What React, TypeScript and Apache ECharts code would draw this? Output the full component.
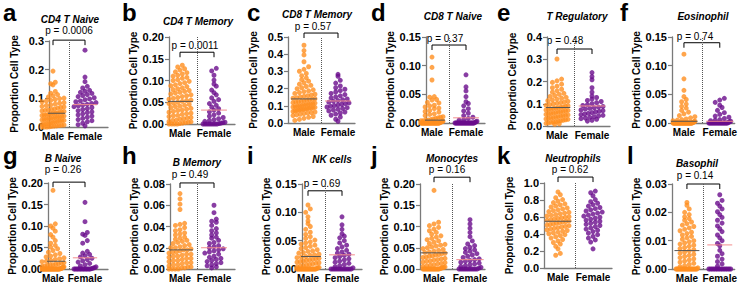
import React, { useEffect, useRef } from 'react';
import * as echarts from 'echarts';

// ---------- DATA ----------
const groups = ['Male', 'Female'];
const panelLetters = ['a', 'b', 'c', 'd', 'e', 'f', 'g', 'h', 'i', 'j', 'k', 'l'];
const panelTitles = ['CD4 T Naive', 'CD4 T Memory', 'CD8 T Memory', 'CD8 T Naive', 'T Regulatory', 'Eosinophil',
  'B Naive', 'B Memory', 'NK cells', 'Monocytes', 'Neutrophils', 'Basophil'];
const pValues = ['p = 0.0006', 'p = 0.0011', 'p = 0.57', 'p = 0.37', 'p = 0.48', 'p = 0.74',
  'p = 0.26', 'p = 0.49', 'p = 0.69', 'p = 0.16', 'p = 0.62', 'p = 0.14'];
const yMax = [0.3, 0.2, 0.5, 0.15, 0.4, 0.15, 0.2, 0.08, 0.15, 0.2, 1.0, 0.03];
const yStep = [0.1, 0.05, 0.1, 0.05, 0.1, 0.05, 0.05, 0.02, 0.05, 0.05, 0.2, 0.01];
const yDecimals = [1, 2, 1, 2, 1, 2, 2, 2, 2, 2, 1, 2];
const maleMedian = [0.048, 0.052, 0.140, 0.005, 0.083, 0.003, 0.018, 0.018, 0.022, 0.038, 0.550, 0.0065];
const femaleMedian: (number | null)[] = [0.078, 0.032, 0.128, 0.009, 0.090, 0.003, 0.026, 0.020, 0.025, 0.022, null, 0.0085];
const bracketY = [0.303, 0.165, 0.523, 0.136, 0.346, 0.140, 0.202, 0.081, 0.138, 0.216, 1.07, 0.030];

const aMale = [0.195, 0.156, 0.151, 0.147, 0.124, 0.118, 0.113, 0.109, 0.105, 0.101, 0.099, 0.096, 0.093, 0.091, 0.088, 0.085, 0.083, 0.080, 0.077, 0.075, 0.072, 0.070, 0.068, 0.066, 0.063, 0.061, 0.060, 0.058, 0.056, 0.054, 0.052, 0.051, 0.049, 0.048, 0.047, 0.045, 0.044, 0.042, 0.041, 0.040, 0.038, 0.037, 0.035, 0.034, 0.033, 0.031, 0.030, 0.029, 0.027, 0.026, 0.025, 0.023, 0.022, 0.021, 0.019, 0.018, 0.016, 0.015, 0.013, 0.012, 0.010, 0.009, 0.007, 0.006, 0.005, 0.004, 0.003, 0.002, 0.001, 0, 0, 0];
const aFemale = [0.268, 0.174, 0.158, 0.142, 0.136, 0.128, 0.125, 0.121, 0.117, 0.113, 0.110, 0.106, 0.102, 0.098, 0.095, 0.091, 0.088, 0.085, 0.082, 0.079, 0.077, 0.074, 0.071, 0.068, 0.064, 0.061, 0.057, 0.053, 0.050, 0.046, 0.042, 0.038, 0.034, 0.030, 0.026, 0.022, 0.018, 0.013, 0.008, 0.004];

const bMale = [0.135, 0.131, 0.127, 0.124, 0.120, 0.118, 0.115, 0.112, 0.110, 0.107, 0.105, 0.102, 0.100, 0.098, 0.095, 0.093, 0.090, 0.088, 0.086, 0.083, 0.081, 0.079, 0.077, 0.075, 0.073, 0.071, 0.069, 0.067, 0.065, 0.063, 0.061, 0.059, 0.057, 0.055, 0.054, 0.052, 0.050, 0.048, 0.047, 0.045, 0.043, 0.041, 0.040, 0.038, 0.036, 0.034, 0.032, 0.031, 0.029, 0.027, 0.025, 0.024, 0.022, 0.020, 0.019, 0.017, 0.015, 0.014, 0.012, 0.011, 0.009, 0.008, 0.006, 0.005, 0.004, 0.003, 0.002, 0.001, 0, 0, 0, 0];
const bFemale = [0.128, 0.122, 0.112, 0.101, 0.092, 0.087, 0.078, 0.072, 0.067, 0.060, 0.056, 0.052, 0.047, 0.043, 0.039, 0.035, 0.032, 0.028, 0.025, 0.021, 0.018, 0.015, 0.012, 0.010, 0.008, 0.006, 0.004, 0.003, 0.002, 0.001, 0, 0, 0, 0, 0, 0, 0, 0];

const cMale = [0.452, 0.421, 0.396, 0.356, 0.327, 0.312, 0.301, 0.288, 0.275, 0.262, 0.252, 0.243, 0.234, 0.226, 0.219, 0.212, 0.205, 0.199, 0.193, 0.187, 0.182, 0.177, 0.172, 0.167, 0.163, 0.159, 0.155, 0.151, 0.147, 0.144, 0.141, 0.138, 0.135, 0.132, 0.129, 0.126, 0.123, 0.121, 0.118, 0.116, 0.113, 0.111, 0.108, 0.106, 0.104, 0.101, 0.099, 0.097, 0.095, 0.093, 0.091, 0.089, 0.087, 0.085, 0.083, 0.081, 0.079, 0.077, 0.075, 0.072, 0.070, 0.067, 0.064, 0.061, 0.058, 0.055, 0.051, 0.047, 0.043, 0.038, 0.033, 0.027, 0.021, 0.015];
const cFemale = [0.283, 0.272, 0.248, 0.232, 0.215, 0.205, 0.196, 0.188, 0.180, 0.172, 0.165, 0.158, 0.152, 0.146, 0.140, 0.135, 0.130, 0.126, 0.121, 0.117, 0.113, 0.109, 0.105, 0.101, 0.097, 0.093, 0.089, 0.085, 0.080, 0.075, 0.070, 0.064, 0.058, 0.052, 0.045, 0.035, 0.022, 0.010];

const dMale = [0.115, 0.097, 0.075, 0.046, 0.045, 0.041, 0.040, 0.036, 0.035, 0.031, 0.030, 0.028, 0.026, 0.025, 0.022, 0.020, 0.019, 0.016, 0.015, 0.013, 0.011, 0.010, 0.009, 0.008, 0.007, 0.006, 0.005, 0.005, 0.004, 0.004, 0.003, 0.003, 0.002, 0.002, 0.001, 0.001, 0, 0, 0, 0, 0, 0, 0, 0, 0, 0, 0, 0, 0, 0, 0, 0, 0, 0, 0, 0, 0, 0, 0, 0, 0, 0, 0, 0, 0, 0];
const dFemale = [0.084, 0.063, 0.056, 0.046, 0.037, 0.034, 0.030, 0.025, 0.021, 0.017, 0.013, 0.010, 0.008, 0.006, 0.005, 0.003, 0.002, 0.001, 0, 0, 0, 0, 0, 0, 0, 0, 0, 0, 0, 0, 0, 0, 0, 0, 0, 0, 0, 0];

const eMale = [0.301, 0.211, 0.203, 0.196, 0.188, 0.179, 0.172, 0.165, 0.158, 0.152, 0.147, 0.142, 0.137, 0.133, 0.129, 0.125, 0.121, 0.117, 0.114, 0.111, 0.108, 0.105, 0.102, 0.099, 0.096, 0.093, 0.091, 0.088, 0.086, 0.084, 0.082, 0.080, 0.078, 0.076, 0.074, 0.072, 0.070, 0.068, 0.066, 0.064, 0.062, 0.060, 0.058, 0.056, 0.054, 0.052, 0.050, 0.048, 0.046, 0.044, 0.042, 0.040, 0.038, 0.036, 0.034, 0.032, 0.030, 0.028, 0.026, 0.024, 0.022, 0.020, 0.018, 0.016, 0.014, 0.012, 0.010, 0.008];
const eFemale = [0.240, 0.222, 0.208, 0.172, 0.152, 0.135, 0.128, 0.121, 0.115, 0.110, 0.105, 0.100, 0.096, 0.092, 0.088, 0.085, 0.082, 0.079, 0.076, 0.072, 0.069, 0.066, 0.063, 0.060, 0.057, 0.054, 0.051, 0.048, 0.045, 0.042, 0.039, 0.036, 0.033, 0.030, 0.026, 0.022];

const fMale = [0.120, 0.077, 0.057, 0.046, 0.041, 0.037, 0.033, 0.029, 0.026, 0.022, 0.019, 0.016, 0.013, 0.011, 0.009, 0.007, 0.006, 0.005, 0.004, 0.003, 0.002, 0.002, 0.001, 0.001, 0, 0, 0, 0, 0, 0, 0, 0, 0, 0, 0, 0, 0, 0, 0, 0, 0, 0, 0, 0, 0, 0, 0, 0, 0, 0, 0, 0, 0, 0, 0, 0, 0, 0, 0];
const fFemale = [0.043, 0.040, 0.036, 0.031, 0.027, 0.022, 0.018, 0.015, 0.012, 0.010, 0.008, 0.006, 0.005, 0.004, 0.003, 0.002, 0.001, 0, 0, 0, 0, 0, 0, 0, 0, 0, 0, 0, 0, 0, 0, 0, 0, 0, 0];

const gMale = [0.183, 0.105, 0.100, 0.095, 0.088, 0.080, 0.074, 0.066, 0.060, 0.055, 0.051, 0.047, 0.043, 0.039, 0.036, 0.033, 0.030, 0.028, 0.026, 0.024, 0.022, 0.020, 0.018, 0.017, 0.015, 0.014, 0.012, 0.011, 0.010, 0.009, 0.008, 0.007, 0.006, 0.005, 0.004, 0.003, 0.002, 0.001, 0.001, 0, 0, 0, 0, 0, 0, 0, 0, 0, 0, 0, 0, 0, 0, 0, 0, 0, 0, 0, 0, 0, 0, 0, 0, 0];
const gFemale = [0.155, 0.110, 0.085, 0.081, 0.078, 0.066, 0.060, 0.041, 0.037, 0.034, 0.031, 0.028, 0.025, 0.022, 0.019, 0.016, 0.013, 0.010, 0.007, 0.005, 0.003, 0.002, 0.001, 0, 0, 0, 0, 0, 0, 0, 0, 0, 0, 0, 0];

const hMale = [0.071, 0.066, 0.061, 0.056, 0.043, 0.042, 0.041, 0.039, 0.037, 0.036, 0.034, 0.033, 0.032, 0.030, 0.029, 0.028, 0.027, 0.026, 0.025, 0.024, 0.023, 0.022, 0.021, 0.020, 0.020, 0.019, 0.018, 0.018, 0.017, 0.016, 0.016, 0.015, 0.014, 0.014, 0.013, 0.012, 0.012, 0.011, 0.010, 0.010, 0.009, 0.008, 0.008, 0.007, 0.006, 0.006, 0.005, 0.004, 0.004, 0.003, 0.002, 0.002, 0.001, 0.001, 0, 0, 0, 0];
const hFemale = [0.060, 0.053, 0.047, 0.045, 0.044, 0.041, 0.038, 0.036, 0.034, 0.032, 0.030, 0.029, 0.027, 0.025, 0.024, 0.022, 0.021, 0.020, 0.019, 0.018, 0.017, 0.016, 0.015, 0.014, 0.012, 0.011, 0.010, 0.009, 0.008, 0.007, 0.006, 0.005, 0.004, 0.003, 0.002, 0.001];

const iMale = [0.113, 0.106, 0.100, 0.092, 0.085, 0.080, 0.075, 0.070, 0.065, 0.061, 0.057, 0.054, 0.051, 0.048, 0.046, 0.044, 0.042, 0.040, 0.038, 0.036, 0.034, 0.032, 0.031, 0.029, 0.028, 0.026, 0.025, 0.024, 0.022, 0.021, 0.020, 0.019, 0.018, 0.017, 0.016, 0.015, 0.014, 0.013, 0.012, 0.011, 0.010, 0.009, 0.008, 0.007, 0.006, 0.005, 0.004, 0.003, 0.002, 0.001, 0, 0, 0, 0, 0, 0, 0, 0, 0, 0, 0, 0, 0, 0, 0, 0, 0, 0];
const iFemale = [0.092, 0.078, 0.070, 0.062, 0.058, 0.055, 0.050, 0.046, 0.042, 0.039, 0.036, 0.033, 0.030, 0.028, 0.026, 0.024, 0.022, 0.020, 0.018, 0.016, 0.014, 0.012, 0.010, 0.008, 0.006, 0.004, 0.002, 0, 0, 0, 0, 0, 0, 0, 0, 0, 0, 0];

const jMale = [0.185, 0.110, 0.106, 0.102, 0.098, 0.094, 0.090, 0.086, 0.082, 0.078, 0.075, 0.072, 0.069, 0.066, 0.063, 0.060, 0.058, 0.056, 0.054, 0.052, 0.050, 0.048, 0.046, 0.044, 0.042, 0.040, 0.039, 0.037, 0.036, 0.034, 0.033, 0.031, 0.030, 0.028, 0.027, 0.025, 0.024, 0.022, 0.021, 0.019, 0.018, 0.016, 0.015, 0.013, 0.012, 0.010, 0.009, 0.007, 0.006, 0.005, 0.004, 0.003, 0.002, 0.001, 0, 0, 0, 0, 0, 0, 0, 0, 0, 0, 0, 0, 0, 0];
const jFemale = [0.116, 0.106, 0.096, 0.086, 0.076, 0.066, 0.059, 0.055, 0.051, 0.048, 0.045, 0.042, 0.039, 0.036, 0.033, 0.030, 0.027, 0.024, 0.022, 0.020, 0.018, 0.016, 0.014, 0.012, 0.010, 0.008, 0.006, 0.004, 0.002, 0, 0, 0, 0, 0, 0, 0, 0, 0, 0];

const kMale = [0.895, 0.862, 0.826, 0.805, 0.785, 0.770, 0.755, 0.742, 0.730, 0.718, 0.706, 0.695, 0.684, 0.674, 0.664, 0.655, 0.646, 0.637, 0.628, 0.620, 0.612, 0.604, 0.596, 0.589, 0.582, 0.575, 0.568, 0.561, 0.554, 0.547, 0.540, 0.533, 0.526, 0.519, 0.512, 0.505, 0.498, 0.490, 0.482, 0.474, 0.466, 0.458, 0.450, 0.441, 0.432, 0.423, 0.413, 0.403, 0.392, 0.380, 0.368, 0.352, 0.335, 0.318, 0.300, 0.282, 0.255, 0.225, 0.172, 0.150];
const kFemale = [0.905, 0.885, 0.850, 0.805, 0.780, 0.762, 0.745, 0.728, 0.712, 0.698, 0.684, 0.671, 0.658, 0.646, 0.634, 0.622, 0.610, 0.598, 0.586, 0.574, 0.562, 0.550, 0.538, 0.526, 0.514, 0.500, 0.486, 0.472, 0.458, 0.444, 0.428, 0.410, 0.392, 0.372, 0.352, 0.330, 0.305, 0.225];

const lMale = [0.0235, 0.0225, 0.0212, 0.0200, 0.0192, 0.0184, 0.0178, 0.0172, 0.0166, 0.0160, 0.0155, 0.0150, 0.0145, 0.0140, 0.0135, 0.0130, 0.0125, 0.0120, 0.0115, 0.0110, 0.0105, 0.0100, 0.0096, 0.0092, 0.0088, 0.0084, 0.0080, 0.0076, 0.0072, 0.0068, 0.0064, 0.0060, 0.0056, 0.0052, 0.0048, 0.0044, 0.0040, 0.0036, 0.0032, 0.0028, 0.0024, 0.0020, 0.0016, 0.0012, 0.0008, 0.0004, 0, 0, 0, 0, 0, 0, 0, 0, 0, 0, 0, 0, 0, 0, 0, 0, 0, 0, 0, 0];
const lFemale = [0.0262, 0.0242, 0.0232, 0.0222, 0.0212, 0.0202, 0.0192, 0.0182, 0.0172, 0.0162, 0.0152, 0.0142, 0.0132, 0.0120, 0.0110, 0.0100, 0.0090, 0.0082, 0.0066, 0.0054, 0.0045, 0.0035, 0.0026, 0.0018, 0.0010, 0, 0, 0, 0, 0, 0, 0, 0, 0, 0, 0, 0, 0, 0];

const maleValues = [aMale, bMale, cMale, dMale, eMale, fMale, gMale, hMale, iMale, jMale, kMale, lMale];
const femaleValues = [aFemale, bFemale, cFemale, dFemale, eFemale, fFemale, gFemale, hFemale, iFemale, jFemale, kFemale, lFemale];

// ---------- LAYOUT (pixels) ----------
type Lay = { ax: number; end: number; mx: number; fx: number; top: number; bot: number; tx: number; ty: number; px: number; py: number; lx: number; ly: number };
const LAYOUT: Lay[] = [
  { ax: 49, end: 108, mx: 53, fx: 85, top: 41, bot: 127, tx: 70, ty: 19, px: 69, py: 30.5, lx: 3, ly: 12 },
  { ax: 169, end: 235, mx: 180, fx: 214, top: 37, bot: 124, tx: 198, ty: 21.5, px: 195, py: 45, lx: 122, ly: 12 },
  { ax: 288, end: 355, mx: 304, fx: 338, top: 37, bot: 123, tx: 317, ty: 14.5, px: 313, py: 26.5, lx: 247, ly: 12 },
  { ax: 426, end: 485, mx: 432, fx: 466, top: 37, bot: 123, tx: 453, ty: 16, px: 445, py: 38, lx: 371, ly: 12 },
  { ax: 547, end: 610, mx: 557, fx: 592, top: 37, bot: 126, tx: 577, ty: 16, px: 565, py: 40, lx: 497, ly: 12 },
  { ax: 672, end: 735, mx: 684, fx: 720, top: 37, bot: 123, tx: 703, ty: 16.5, px: 695, py: 36, lx: 620, ly: 12 },
  { ax: 48, end: 108, mx: 53, fx: 85, top: 183, bot: 269, tx: 63, ty: 158, px: 63, py: 169.5, lx: 3, ly: 155 },
  { ax: 170, end: 235, mx: 180, fx: 214, top: 184, bot: 269, tx: 197, ty: 162.5, px: 190, py: 174.5, lx: 122, ly: 155 },
  { ax: 302, end: 362, mx: 308, fx: 342, top: 184, bot: 269, tx: 332, ty: 159.5, px: 322, py: 183, lx: 247, ly: 155 },
  { ax: 420, end: 485, mx: 434, fx: 470, top: 184, bot: 269, tx: 452, ty: 158, px: 447, py: 169.5, lx: 371, ly: 155 },
  { ax: 544, end: 612, mx: 558, fx: 593, top: 183, bot: 268, tx: 573, ty: 158, px: 570, py: 169.5, lx: 497, ly: 155 },
  { ax: 672, end: 735, mx: 687, fx: 720, top: 184, bot: 269, tx: 697, ty: 163, px: 695, py: 175, lx: 627, ly: 155 },
];

const FONT = '"Liberation Sans", Arial, Helvetica, sans-serif';
const ORANGE = '#FF8F1F';
const PURPLE = '#6A0C8C';
const AXIS = '#7a7a7a';
const DOT = 5;
const ROW_H = 4.5;
const GAP = 4.6;
const MAX_HALF = 11;

function swarm(values: number[], center: number, pxPerY: number, pxPerX: number): number[][] {
  const sorted = [...values].sort((a, b) => a - b);
  const rows = new Map<number, number[]>();
  sorted.forEach((v) => {
    const k = Math.round((v * pxPerY) / ROW_H);
    if (!rows.has(k)) rows.set(k, []);
    rows.get(k)!.push(v);
  });
  const out: number[][] = [];
  rows.forEach((list) => {
    const n = list.length;
    const sp = n > 1 ? Math.min(GAP, (2 * MAX_HALF) / (n - 1)) : 0;
    list.forEach((v, i) => {
      const off = (i - (n - 1) / 2) * sp;
      out.push([center + off / pxPerX, v]);
    });
  });
  return out;
}

function buildOption() {
  const grid: any[] = [];
  const xAxis: any[] = [];
  const yAxis: any[] = [];
  const series: any[] = [];
  const graphic: any[] = [];

  LAYOUT.forEach((L, i) => {
    const span = L.fx - L.mx;
    const pxPerY = (L.bot - L.top) / yMax[i];
    grid.push({ left: L.ax, top: L.top, width: L.end - L.ax, height: L.bot - L.top });
    xAxis.push({
      gridIndex: i, type: 'value',
      min: -(L.mx - L.ax) / span, max: 1 + (L.end - L.fx) / span,
      splitLine: { show: false },
      axisTick: { show: false },
      axisLine: { show: true, onZero: false, lineStyle: { color: AXIS, width: 1.3 } },
      axisLabel: {
        customValues: [0, 1],
        formatter: (v: number) => groups[Math.round(v)],
        fontFamily: FONT, fontWeight: 'bold', fontSize: 10, color: '#000', margin: 4,
      },
    });
    const dec = yDecimals[i];
    yAxis.push({
      gridIndex: i, type: 'value', min: 0, max: yMax[i], interval: yStep[i],
      splitLine: { show: false },
      axisLine: { show: true, onZero: false, lineStyle: { color: AXIS, width: 1.3 } },
      axisTick: { show: true, length: 4, lineStyle: { color: AXIS, width: 1.2 } },
      axisLabel: {
        formatter: (v: number) => v.toFixed(dec),
        fontFamily: FONT, fontWeight: 'bold', fontSize: 11, color: '#000', margin: 5,
      },
      name: 'Proportion Cell Type', nameLocation: 'middle', nameGap: 30,
      nameTextStyle: { fontFamily: FONT, fontWeight: 'bold', fontSize: 10, color: '#000' },
    });

    series.push({
      type: 'scatter', xAxisIndex: i, yAxisIndex: i, symbolSize: DOT, clip: false, silent: true, z: 2,
      itemStyle: { color: ORANGE },
      data: swarm(maleValues[i], 0, pxPerY, span),
    });
    series.push({
      type: 'scatter', xAxisIndex: i, yAxisIndex: i, symbolSize: DOT, clip: false, silent: true, z: 2,
      itemStyle: { color: PURPLE },
      data: swarm(femaleValues[i], 1, pxPerY, span),
      markLine: {
        silent: true, symbol: ['none', 'none'], label: { show: false },
        lineStyle: { type: 'dotted', color: '#555', width: 1 },
        data: [{ xAxis: 0.5 }],
      },
    });
    const b = bracketY[i];
    const drop = 5 / pxPerY;
    series.push({
      type: 'line', xAxisIndex: i, yAxisIndex: i, symbol: 'none', clip: false, silent: true, z: 4,
      lineStyle: { color: '#000', width: 1 },
      data: [[0, b - drop], [0, b], [1, b], [1, b - drop]],
    });
    series.push({
      type: 'line', xAxisIndex: i, yAxisIndex: i, symbol: 'none', clip: false, silent: true, z: 5,
      lineStyle: { color: '#555', width: 1 },
      data: [[-0.38, maleMedian[i]], [0.38, maleMedian[i]]],
    });
    const fm = femaleMedian[i];
    if (fm !== null) {
      series.push({
        type: 'line', xAxisIndex: i, yAxisIndex: i, symbol: 'none', clip: false, silent: true, z: 5,
        lineStyle: { color: '#F28C8C', width: 1 },
        data: [[0.62, fm], [1.38, fm]],
      });
    }

    graphic.push({
      type: 'text', x: L.tx, y: L.ty, silent: true,
      style: { text: panelTitles[i], font: `italic bold 10px ${FONT}`, fill: '#000', align: 'center', verticalAlign: 'middle', textAlign: 'center', textVerticalAlign: 'middle' },
    });
    graphic.push({
      type: 'text', x: L.px, y: L.py, silent: true,
      style: { text: pValues[i], font: `normal 10px ${FONT}`, fill: '#000', align: 'center', verticalAlign: 'middle', textAlign: 'center', textVerticalAlign: 'middle' },
    });
    graphic.push({
      type: 'text', x: L.lx, y: L.ly, silent: true,
      style: { text: panelLetters[i], font: `bold 24px ${FONT}`, fill: '#000', align: 'left', verticalAlign: 'middle', textAlign: 'left', textVerticalAlign: 'middle' },
    });
  });

  return { animation: false, backgroundColor: '#fff', grid, xAxis, yAxis, series, graphic };
}

export default function App() {
  const ref = useRef<HTMLDivElement>(null);
  useEffect(() => {
    const chart = echarts.init(ref.current!, null, { renderer: 'svg' });
    chart.setOption(buildOption() as any);
    return () => chart.dispose();
  }, []);
  return <div ref={ref} style={{ position: 'absolute', left: 0, top: 0, width: 740, height: 285, background: '#fff' }} />;
}
